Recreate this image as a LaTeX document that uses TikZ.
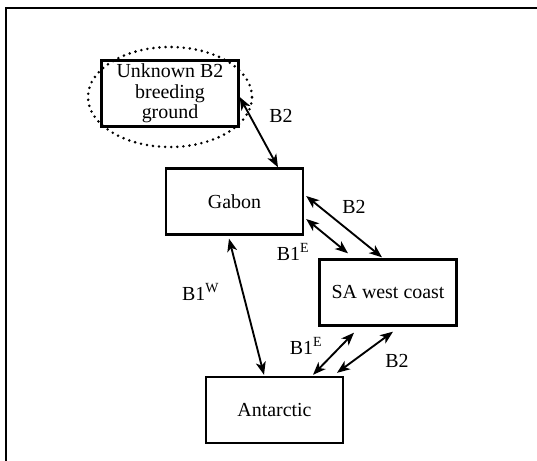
\documentclass[tikz,border=0pt]{standalone}
\usepackage{fontspec}
\setmainfont{Liberation Serif}
\usetikzlibrary{arrows.meta,calc,shapes.geometric}

\tikzset{
  place/.style={draw, line width=2pt, minimum width=4.11cm, minimum height=1.98cm, inner sep=0pt, align=center},
  route/.style={{Stealth[length=11pt,width=8.5pt,inset=3pt]}-{Stealth[length=11pt,width=8.5pt,inset=3pt]}, line width=1.6pt},
  tag/.style={inner sep=0pt}
}

\begin{document}
\begin{tikzpicture}[x=0.03cm, y=-0.03cm, font=\fontsize{17}{17.5}\selectfont]
				\useasboundingbox (0,0) rectangle (537,461);
				% Frame (top and left only)
				\draw[line width=1.2pt] (537,8) -- (6,8) -- (6,461);
				
				% Places
				\node[place] (unk) at (170,93.5) {\raisebox{-3pt}{\parbox{3.6cm}{\centering Unknown B2\\breeding\\ground}}};
				\node[draw, ellipse, dash pattern=on 0pt off 5.2pt, line cap=round, line width=2.4pt,
				      minimum width=4.92cm, minimum height=3cm, inner sep=0pt] (halo) at (170,97) {};
				\node[place] (gabon) at (234.5,201.5) {Gabon};
				\node[place] (sa) at (388,292.5) {\raisebox{-7pt}{SA west coast}};
				\node[place] (ant) at (274.5,410) {\raisebox{-3pt}{Antarctic}};
				
				% Routes
				\draw[route] ($(unk.east)+(0,3.5)$) -- ($(gabon.north)+(43.5,0)$); % breeding ground to Gabon
				\draw[route] ($(gabon.east)+(2,-5.5)$) -- ($(sa.north)+(-6,-1)$); % Gabon to SA, B2
				\draw[route] ($(gabon.east)+(2,17.5)$) -- ($(sa.north)+(-40,-5)$); % Gabon to SA, B1 E
				\draw[route] ($(gabon.south)+(-5.5,3)$) -- ($(ant.north)+(-10.5,-1)$); % Gabon to Antarctic
				\draw[route] ($(sa.south)+(-34,6)$) -- ($(ant.north)+(38.5,-1)$); % SA to Antarctic, B1 E
				\draw[route] ($(sa.south)+(5,5)$) -- ($(ant.north)+(62.5,-3)$); % SA to Antarctic, B2
				
				% Labels
				\node[tag] (l1) at (281,116) {B2};
				\node[tag] (l2) at (354,207) {B2};
				\node[tag] (l3) at (293,252) {B1\textsuperscript{E}};
				\node[tag] (l4) at (200.5,292) {B1\textsuperscript{W}};
				\node[tag] (l5) at (306,346) {B1\textsuperscript{E}};
				\node[tag] (l6) at (397,361) {B2};
\end{tikzpicture}
\end{document}
